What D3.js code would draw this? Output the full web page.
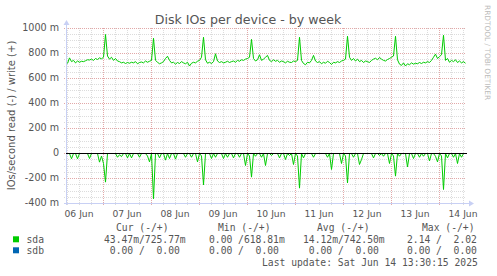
<!DOCTYPE html>
<html><head><meta charset="utf-8">
<script src="https://cdn.jsdelivr.net/npm/d3@7"></script>
<style>body{margin:0;background:#fff}svg{display:block}</style>
</head><body>
<script>
// ---- data (values in milli-IOs/second), one sample per hour from 2025-06-06 06:00 UTC
const sampleStart = Date.UTC(2025, 5, 6, 6, 0);
const sampleStepHours = 1;
const sdaWrite = [
  720,765,735,745,725,740,730,738,735,742,750,748,755,745,760,752,765,758,770,
  952,
  780,755,770,745,760,740,735,725,730,720,728,722,730,725,735,718,728,732,725,740,730,738,745,
  922,
  745,730,718,725,735,760,778,745,725,730,715,728,720,735,725,718,730,700,722,730,725,738,745,770,
  930,
  750,722,730,720,735,798,740,728,735,725,730,738,728,735,740,730,745,738,750,745,755,760,770,
  913,
  760,740,750,790,745,755,770,785,745,735,750,738,745,730,740,735,725,738,730,728,740,735,745,
  930,
  745,720,710,730,725,745,785,740,728,735,718,730,722,738,728,712,730,725,735,728,740,745,755,
  938,
  770,745,760,740,755,735,745,728,740,735,728,745,755,762,750,768,755,745,740,752,760,770,780,
  938,
  750,715,705,725,700,718,710,725,715,722,718,728,720,730,725,735,728,745,770,795,760,775,790,
  946,
  745,760,730,745,735,750,728,740,725,735,722
];
const sdaRead = [
  0,0,42,0,0,42,0,0,0,0,
  0,40,0,0,0,0,69,20,80,229,
  0,0,0,0,0,30,10,25,0,0,
  35,0,35,0,0,0,30,0,0,0,
  20,67,0,362,0,0,35,0,0,53,
  0,40,0,0,45,0,0,0,0,30,
  0,0,30,0,0,67,0,20,251,0,
  0,0,40,0,30,0,0,0,40,0,
  30,0,0,35,0,0,30,0,0,96,
  0,20,189,0,22,0,0,30,0,96,
  0,0,16,0,0,0,35,0,0,48,
  0,16,0,88,0,20,277,0,35,0,
  0,0,0,30,0,0,0,0,0,0,
  30,0,128,0,0,0,0,80,0,20,
  235,0,0,30,0,0,88,48,0,0,
  0,0,0,35,0,0,16,0,22,0,
  0,80,0,20,181,0,22,0,0,0,
  107,0,0,40,0,0,30,0,22,0,
  0,59,0,0,22,67,0,20,288,0,
  35,0,0,30,0,80,0,30,0,0
];
const sdbWrite = [0, 0];
const sdbRead = [0, 0];
const sdbTimes = [Date.UTC(2025,5,6,5,30), Date.UTC(2025,5,14,13,30)];

const yTickValues = [1000, 800, 600, 400, 200, 0, -200, -400];
const yTickLabels = ["1000 m", "800 m", "600 m", "400 m", "200 m", "0", "-200 m", "-400 m"];
const dayLabels = ["06 Jun","07 Jun","08 Jun","09 Jun","10 Jun","11 Jun","12 Jun","13 Jun","14 Jun"];
const dayLabelDates = [6,7,8,9,10,11,12,13,14];

const seriesNames = ["sda", "sdb"];
const seriesColors = ["#00cc00", "#0066b3"];
const legendHeaders = ["Cur (-/+)", "Min (-/+)", "Avg (-/+)", "Max (-/+)"];
const legendCur = [" 43.47m/725.77m", "  0.00 /  0.00 "];
const legendMin = ["  0.00 /618.81m", "  0.00 /  0.00 "];
const legendAvg = [" 14.12m/742.50m", "  0.00 /  0.00 "];
const legendMax = ["  2.14 /  2.02 ", "  0.00 /  0.00 "];
const titleText = "Disk IOs per device - by week";
const yAxisTitle = "IOs/second read (-) / write (+)";
const lastUpdate = "Last update: Sat Jun 14 13:30:15 2025";
const sideText = "RRDTOOL / TOBI OETIKER";

// ---- layout
const W = 497, H = 276;
const svg = d3.select("body").append("svg").attr("width", W).attr("height", H)
  .style("font-family", "'DejaVu Sans', sans-serif");
svg.append("rect").attr("width", W).attr("height", H).attr("fill", "#ffffff");

const x = d3.scaleUtc()
  .domain([Date.UTC(2025,5,6,5,30), Date.UTC(2025,5,14,13,30)])
  .range([66, 466]);
const y = d3.scaleLinear().domain([-400, 1000]).range([203, 28]);

const timeOf = i => new Date(sampleStart + i * sampleStepHours * 3600e3);

const minorCol = "#dcdcdc", majorCol = "#e2a8a8", axisCol = "#c8d0f4";

// horizontal grid
const g = svg.append("g");
d3.range(-400, 1001, 50).forEach(v => {
  const yy = Math.round(y(v)) + 0.5;
  const major = v % 200 === 0;
  g.append("line").attr("x1", 64).attr("x2", 466).attr("y1", yy).attr("y2", yy)
    .attr("stroke", major ? majorCol : minorCol).attr("stroke-dasharray", "1,1")
    .attr("shape-rendering", "crispEdges");
});
// vertical grid every 6h
const vt = d3.utcHour.every(6).range(new Date(Date.UTC(2025,5,6,6)), new Date(Date.UTC(2025,5,14,13)));
vt.forEach(t => {
  const xx = Math.round(x(t)) + 0.5;
  const major = t.getUTCHours() === 0;
  g.append("line").attr("x1", xx).attr("x2", xx).attr("y1", 28).attr("y2", 205)
    .attr("stroke", major ? majorCol : minorCol).attr("stroke-dasharray", "1,1")
    .attr("shape-rendering", "crispEdges");
});

// axes
svg.append("line").attr("x1", 66.5).attr("x2", 66.5).attr("y1", 205).attr("y2", 24)
  .attr("stroke", axisCol).attr("shape-rendering", "crispEdges");
svg.append("path").attr("d", "M63.5,25 L69.5,25 L66.5,20 Z").attr("fill", axisCol);
svg.append("line").attr("x1", 64).attr("x2", 470).attr("y1", 203.5).attr("y2", 203.5)
  .attr("stroke", axisCol).attr("shape-rendering", "crispEdges");
svg.append("path").attr("d", "M469,200.5 L469,206.5 L474,203.5 Z").attr("fill", axisCol);

// y tick labels
svg.append("g").selectAll("text").data(yTickValues).join("text")
  .attr("x", 59).attr("y", d => y(d)).attr("dy", "0.35em")
  .attr("text-anchor", "end").attr("font-size", "9.6px").attr("fill", "#555")
  .text((d, i) => yTickLabels[i]);

// x labels at noon of each day
svg.append("g").selectAll("text").data(dayLabelDates).join("text")
  .attr("x", d => x(new Date(Date.UTC(2025,5,d,12))))
  .attr("y", 216.5).attr("text-anchor", "middle").attr("font-size", "9.2px").attr("fill", "#555")
  .text((d, i) => dayLabels[i]);

// data lines (offset half a pixel so they sit on pixel centres)
const line = d3.line().x(d => x(d[0])).y(d => y(d[1]));
const dg = svg.append("g").attr("transform", "translate(0.5,0.5)");
dg.append("path").datum(sdbTimes.map((t, i) => [new Date(t), sdbWrite[i]]))
  .attr("d", line).attr("fill", "none").attr("stroke", seriesColors[1]);
dg.append("path").datum(sdbTimes.map((t, i) => [new Date(t), -sdbRead[i]]))
  .attr("d", line).attr("fill", "none").attr("stroke", seriesColors[1]);
dg.append("path").datum(sdaRead.map((v, i) => [timeOf(i), -v]))
  .attr("d", line).attr("fill", "none").attr("stroke", seriesColors[0]).attr("stroke-width", 1);
dg.append("path").datum(sdaWrite.map((v, i) => [timeOf(i), v]))
  .attr("d", line).attr("fill", "none").attr("stroke", seriesColors[0]).attr("stroke-width", 1);

// zero line
svg.append("line").attr("x1", 66).attr("x2", 467).attr("y1", Math.round(y(0)) + 0.5).attr("y2", Math.round(y(0)) + 0.5)
  .attr("stroke", "#000").attr("shape-rendering", "crispEdges");

// title
svg.append("text").attr("x", 248).attr("y", 24).attr("text-anchor", "middle")
  .attr("font-size", "12.6px").attr("fill", "#555").text(titleText);

// y axis title
svg.append("text").attr("transform", "translate(15,115.5) rotate(-90)")
  .attr("text-anchor", "middle").attr("font-size", "10px").attr("fill", "#555").text(yAxisTitle);

// side text
svg.append("text").attr("transform", "translate(485,5) rotate(90)")
  .attr("text-anchor", "start").attr("font-size", "7.4px").attr("fill", "#bbb").text(sideText);

// legend
const mono = "'DejaVu Sans Mono', monospace";
const lg = svg.append("g").style("font-family", mono).attr("font-size", "9.7px").attr("fill", "#555")
  .style("white-space", "pre");
const headerX = [116, 218, 317, 422];
legendHeaders.forEach((h, i) => {
  lg.append("text").attr("x", headerX[i]).attr("y", 230.5).text(h);
});
const colX = [98.2, 197.3, 297.2, 395.3];
const rowY = [243.3, 254.3];
seriesNames.forEach((n, r) => {
  lg.append("rect").attr("x", 13).attr("y", rowY[r] - 7).attr("width", 6).attr("height", 6)
    .attr("fill", seriesColors[r]);
  lg.append("text").attr("x", 26.5).attr("y", rowY[r]).text(n);
  [legendCur, legendMin, legendAvg, legendMax].forEach((arr, c) => {
    lg.append("text").attr("x", colX[c]).attr("y", rowY[r]).attr("xml:space", "preserve").text(arr[r]);
  });
});
lg.append("text").attr("x", 262).attr("y", 266).text(lastUpdate);
</script>
</body></html>
